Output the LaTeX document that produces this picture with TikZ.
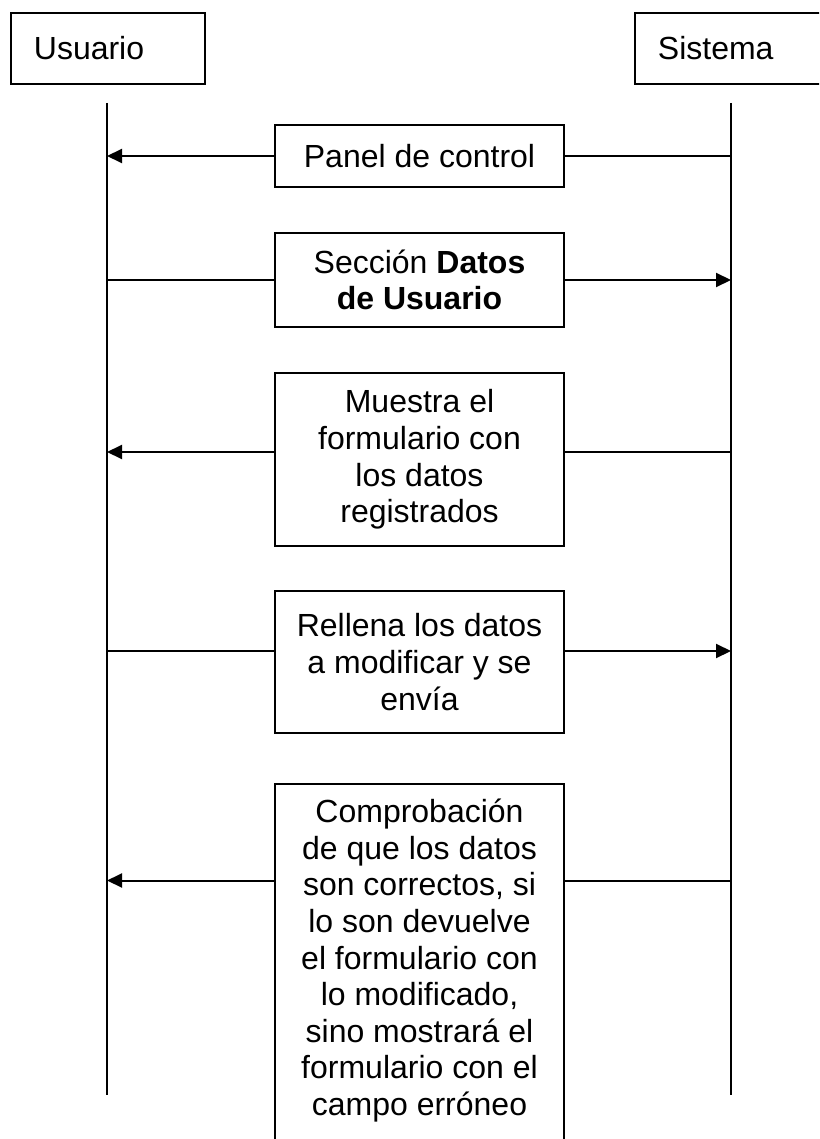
\documentclass[tikz,border=0pt]{standalone}
\usepackage{fontspec}
\setmainfont{Liberation Sans}
\usetikzlibrary{arrows.meta}
\begin{document}
\begin{tikzpicture}[x=1pt,y=-1pt,
  every node/.style={font=\fontsize{32}{36.6}\selectfont},
  actor/.style={draw, line width=1.8pt, minimum width=194pt, minimum height=71pt,
    inner xsep=0pt, text width=148pt, align=left, anchor=north west},
  msg/.style={draw, line width=1.8pt, minimum width=289pt, inner sep=0pt, align=center},
  life/.style={line width=1.8pt},
  conn/.style={line width=2pt},
  arr/.style={conn, -{Triangle[length=15pt,width=14pt]}}
]
\useasboundingbox (0,0) rectangle (819,1139);
\clip (0,0) rectangle (819,1139);
% actors
\node[actor] (u) at (10,12) {Usuario};
\node[actor] (s) at (634,12) {Sistema};
% lifelines
\coordinate (ut) at (107,103);
\coordinate (ub) at (107,1095);
\coordinate (st) at (731,103);
\coordinate (sb) at (731,1095);
\draw[life] (ut) -- (ub);
\draw[life] (st) -- (sb);
% messages
\node[msg, minimum height=62pt] (m1) at (419.5,156) {Panel de control};
\node[msg, minimum height=94pt] (m2) at (419.5,280) {Sección \textbf{Datos}\\\textbf{de Usuario}};
\node[msg, minimum height=173pt] (m3) at (419.5,459.5) {Muestra el\\formulario con\\los datos\\registrados};
\node[msg, minimum height=142pt] (m4) at (419.5,662) {Rellena los datos\\a modificar y se\\envía};
\node[msg, minimum height=440pt, anchor=north] (m5) at (419.5,783) {};
\node[anchor=north, align=center, inner sep=0pt] (t5) at (419.5,799) {Comprobación\\de que los datos\\son correctos, si\\lo son devuelve\\el formulario con\\lo modificado,\\sino mostrará el\\formulario con el\\campo erróneo};
% connectors
\draw[arr] (m1.west) -- (m1.west -| ut);
\draw[conn] (m1.east) -- (m1.east -| st);
\draw[conn] (m2.west) -- (m2.west -| ut);
\draw[arr] (m2.east) -- (m2.east -| st);
\coordinate (m3w) at ([yshift=7.5pt]m3.west);
\coordinate (m3e) at ([yshift=7.5pt]m3.east);
\draw[arr] (m3w) -- (m3w -| ut);
\draw[conn] (m3e) -- (m3e -| st);
\coordinate (m4w) at ([yshift=11pt]m4.west);
\coordinate (m4e) at ([yshift=11pt]m4.east);
\draw[conn] (m4w) -- (m4w -| ut);
\draw[arr] (m4e) -- (m4e -| st);
\coordinate (m5w) at (m5.west |- 0,880.5);
\coordinate (m5e) at (m5.east |- 0,880.5);
\draw[arr] (m5w) -- (m5w -| ut);
\draw[conn] (m5e) -- (m5e -| st);
\end{tikzpicture}
\end{document}
